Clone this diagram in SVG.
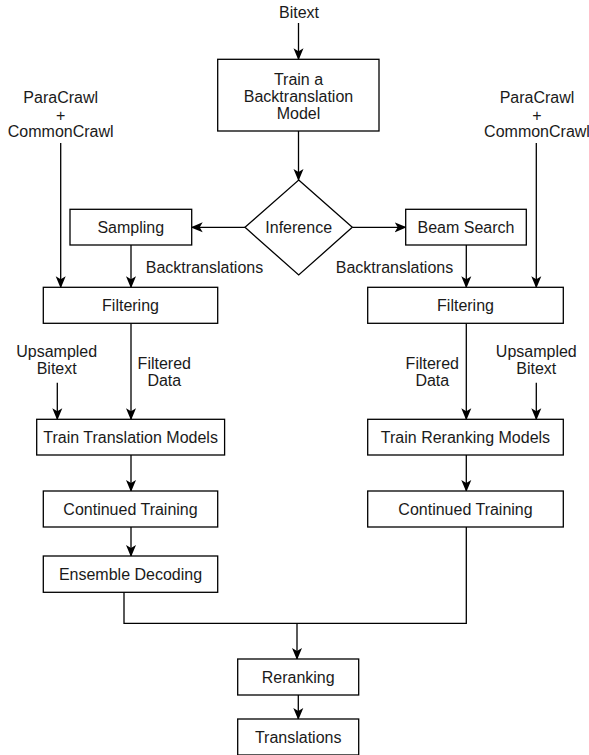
<svg xmlns="http://www.w3.org/2000/svg" width="589" height="755" viewBox="0 0 589 755">
<style>
.box{fill:#fff;stroke:#000;stroke-width:1.3}
.ln{fill:none;stroke:#000;stroke-width:1.3}
.arr{marker-end:url(#ah)}
text{font-family:"Liberation Sans",Arial,Helvetica,sans-serif;font-size:16px;fill:#1a1a1a;text-anchor:middle}
</style>
<defs>
<marker id="ah" markerUnits="userSpaceOnUse" viewBox="0 0 12 12" refX="11" refY="6" markerWidth="12" markerHeight="12" orient="auto">
<path d="M0,1 L12,6 L0,11 L3,6 z" fill="#000"/>
</marker>
</defs>
<rect width="589" height="755" fill="#fff"/>
<g id="connectors">
<path class="ln arr" d="M298.5,23 V59.3"/>
<path class="ln arr" d="M298.5,131 V180"/>
<path class="ln arr" d="M245,227.3 H191.7"/>
<path class="ln arr" d="M352.3,227.3 H405.7"/>
<path class="ln arr" d="M60.7,143 V287.3"/>
<path class="ln arr" d="M536.3,143 V287.3"/>
<path class="ln arr" d="M131,245 V287.3"/>
<path class="ln arr" d="M466.3,245 V287.3"/>
<path class="ln arr" d="M57.3,382.7 V419.3"/>
<path class="ln arr" d="M131,323.3 V419.3"/>
<path class="ln arr" d="M466.3,323.3 V419.3"/>
<path class="ln arr" d="M536.3,382.7 V419.3"/>
<path class="ln arr" d="M131,455 V491"/>
<path class="ln arr" d="M466.3,455 V491"/>
<path class="ln arr" d="M131,527 V556"/>
<path class="ln" d="M124,592.3 V623.3 H466.3 V527"/>
<path class="ln arr" d="M297,623.3 V659"/>
<path class="ln arr" d="M298.3,695 V719"/>
</g>
<g id="bitext"><text x="299" y="18.2">Bitext</text></g>
<g id="train-bt">
<rect class="box" x="217.7" y="59.3" width="161.3" height="71.7"/>
<text x="298.5" y="84.8">Train a</text>
<text x="298.5" y="101.8">Backtranslation</text>
<text x="298.5" y="118.8">Model</text>
</g>
<g id="paracrawl-left">
<text x="60.7" y="103.2">ParaCrawl</text>
<text x="60.7" y="120.5">+</text>
<text x="60.7" y="136.5">CommonCrawl</text>
</g>
<g id="paracrawl-right">
<text x="537" y="103.2">ParaCrawl</text>
<text x="537" y="120.5">+</text>
<text x="537" y="136.5">CommonCrawl</text>
</g>
<g id="inference">
<path class="box" d="M298.7,180 L352.3,227.3 L298.7,275 L245,227.3 Z"/>
<text x="298.7" y="232.8">Inference</text>
</g>
<g id="sampling">
<rect class="box" x="70" y="209.3" width="121.7" height="35.7"/>
<text x="130.8" y="232.8">Sampling</text>
</g>
<g id="beam-search">
<rect class="box" x="405.7" y="209.3" width="120.6" height="35.7"/>
<text x="466" y="232.8">Beam Search</text>
</g>
<g id="bt-label-left"><text x="204.5" y="273.2">Backtranslations</text></g>
<g id="bt-label-right"><text x="394.5" y="273.2">Backtranslations</text></g>
<g id="filtering-left">
<rect class="box" x="43.3" y="287.3" width="174.4" height="36"/>
<text x="130.5" y="310.8">Filtering</text>
</g>
<g id="filtering-right">
<rect class="box" x="367.7" y="287.3" width="195.6" height="36"/>
<text x="465.5" y="310.8">Filtering</text>
</g>
<g id="upsampled-left">
<text x="56.7" y="357.2">Upsampled</text>
<text x="56.7" y="373.5">Bitext</text>
</g>
<g id="filtered-left">
<text x="164.3" y="368.8">Filtered</text>
<text x="164.3" y="385.5">Data</text>
</g>
<g id="filtered-right">
<text x="432.3" y="368.8">Filtered</text>
<text x="432.3" y="385.5">Data</text>
</g>
<g id="upsampled-right">
<text x="536.3" y="357.2">Upsampled</text>
<text x="536.3" y="373.5">Bitext</text>
</g>
<g id="train-translation">
<rect class="box" x="36.7" y="419.3" width="187.9" height="35.7"/>
<text x="130.6" y="442.8">Train Translation Models</text>
</g>
<g id="train-reranking">
<rect class="box" x="367.7" y="419.3" width="195.6" height="35.7"/>
<text x="465.5" y="442.8">Train Reranking Models</text>
</g>
<g id="continued-left">
<rect class="box" x="43.3" y="491" width="174.4" height="36"/>
<text x="130.5" y="514.5">Continued Training</text>
</g>
<g id="continued-right">
<rect class="box" x="367.7" y="491" width="195.6" height="36"/>
<text x="465.5" y="514.5">Continued Training</text>
</g>
<g id="ensemble">
<rect class="box" x="43.3" y="556" width="174.4" height="36.3"/>
<text x="130.5" y="579.6">Ensemble Decoding</text>
</g>
<g id="reranking">
<rect class="box" x="237.7" y="659" width="121" height="36"/>
<text x="298.2" y="682.5">Reranking</text>
</g>
<g id="translations">
<rect class="box" x="237.7" y="719" width="121" height="36"/>
<text x="298.2" y="743">Translations</text>
</g>
</svg>
